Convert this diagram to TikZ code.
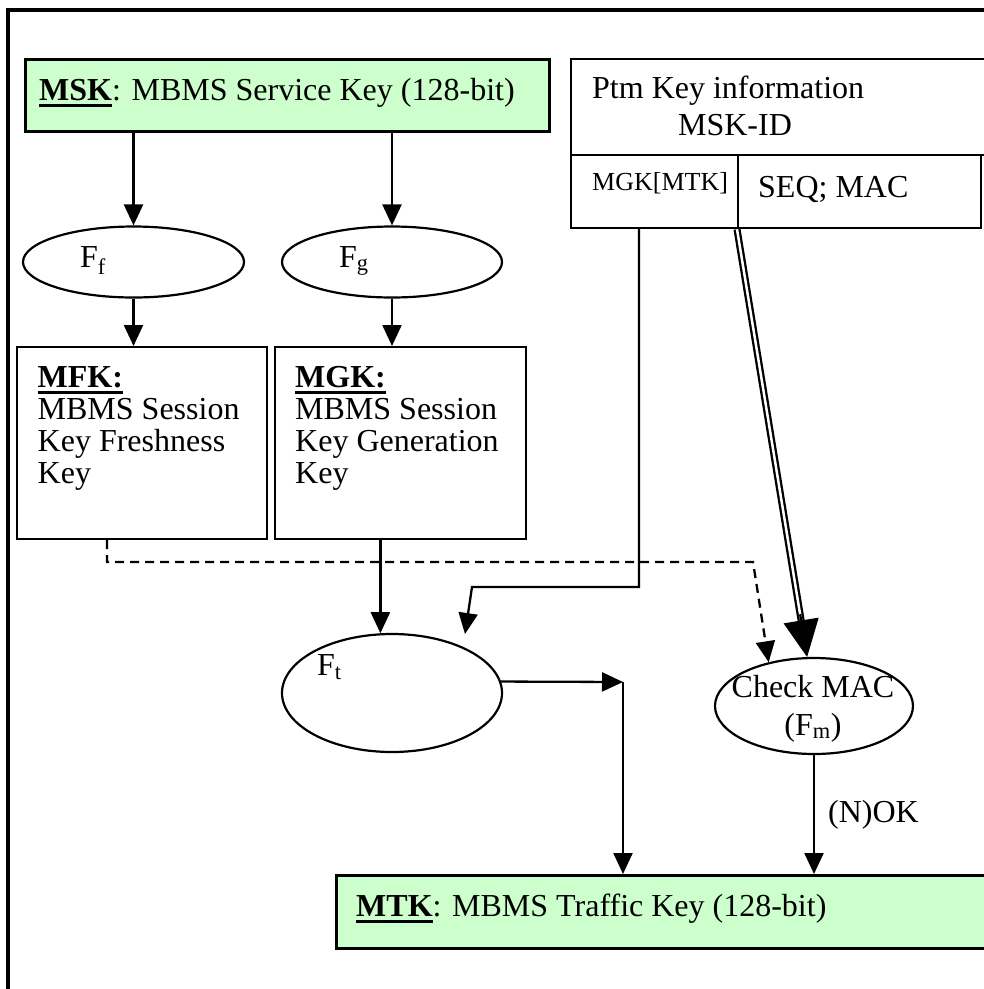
\documentclass[tikz,border=0pt]{standalone}
\usepackage{fontspec}
\setmainfont{Liberation Serif}
\usetikzlibrary{arrows.meta,shapes.geometric,calc}
\definecolor{keygreen}{HTML}{CCFFCC}
\newcommand\fsmain{\fontsize{32}{32}\selectfont}
\newcommand\fssmall{\fontsize{26}{26}\selectfont}
\newcommand\myul[1]{\setbox0\hbox{#1}\rlap{\rule[-6.5pt]{\wd0}{2.8pt}}\box0}
\tikzset{
  box/.style={draw, line width=2.2pt, inner sep=0pt, anchor=north west},
  keybox/.style={box, fill=keygreen, line width=2.6pt},
  fn/.style={draw, ellipse, line width=2.2pt, inner sep=0pt},
  conn/.style={line width=2.3pt, -{Triangle[length=21pt,width=19pt]}},
  dconn/.style={conn, dash pattern=on 9pt off 6pt},
  plain/.style={line width=2.3pt},
  txt/.style={inner sep=0pt, anchor=base west, font=\fsmain},
  ctxt/.style={inner sep=0pt, anchor=base, font=\fsmain},
  para/.style={inner sep=0pt, anchor=north west, align=left, font=\fsmain},
}
\begin{document}
\begin{tikzpicture}[x=1pt,y=-1pt]
\useasboundingbox (0,0) rectangle (984,989);
\clip (0,0) rectangle (984,989);
% outer frame
\draw[line width=3.2pt] (8,10) rectangle (1100,1100);

% boxes
\node[keybox, minimum width=524pt, minimum height=72pt] (msk) at (24,58) {};
\node[txt] (msktxt) at (39,100) {\myul{\textbf{MSK}}: MBMS Service Key (128-bit)};

\node[box, minimum width=440pt, minimum height=96pt] (ptm) at (570,58) {};
\node[box, minimum width=167pt, minimum height=73pt] (mgkmtk) at (570,154) {};
\node[box, minimum width=243pt, minimum height=73pt] (seqmac) at (737,154) {};
\node[txt] (ptmtxt) at (592,98) {Ptm Key information};
\node[ctxt] (mskid) at (735,135) {MSK-ID};
\node[txt, font=\fssmall] (mgktxt) at (592,190) {MGK[MTK]};
\node[txt] (seqtxt) at (758,197) {SEQ; MAC};

% functions
\node[fn, minimum width=221pt, minimum height=71pt] (ff) at (133.5,262) {};
\node[txt] (fflab) at (80,267) {F\textsubscript{f}};
\node[fn, minimum width=220pt, minimum height=71pt] (fg) at (392,262) {};
\node[txt] (fglab) at (339,267) {F\textsubscript{g}};

\node[box, minimum width=250pt, minimum height=192pt] (mfk) at (16,346) {};
\node[para] (mfktxt) at (37.5,366) {\myul{\textbf{MFK:}}\\MBMS Session\\Key Freshness\\Key};
\node[box, minimum width=251pt, minimum height=192pt] (mgk) at (274,346) {};
\node[para] (mgktxt2) at (295,366) {\myul{\textbf{MGK:}}\\MBMS Session\\Key Generation\\Key};

\node[fn, minimum width=220pt, minimum height=118pt] (ft) at (392,693) {};
\node[txt] (ftlab) at (317,675) {F\textsubscript{t}};

\node[fn, minimum width=198pt, minimum height=96pt] (cm) at (814,706) {};
\node[ctxt] (cmtxt1) at (813,697) {Check MAC};
\node[ctxt] (cmtxt2) at (813,735) {(F\textsubscript{m})};

\node[keybox, minimum width=700pt, minimum height=73pt] (mtk) at (335,874) {};
\node[txt] (mtktxt) at (356,916) {\myul{\textbf{MTK}}: MBMS Traffic Key (128-bit)};

% helper coordinates
\coordinate (d1) at (107,562);
\coordinate (d2) at (753,562);
\coordinate (m1) at (639,587);
\coordinate (m2) at (472,587);
\coordinate (ftin) at (465,634);
\coordinate (jn) at (623,682);

% connectors
\draw[conn] (msk.south -| ff.north) -- (ff.north);
\draw[conn] (msk.south -| fg.north) -- (fg.north);
\draw[conn] (ff.south) -- (ff.south |- mfk.north);
\draw[conn] (fg.south) -- (fg.south |- mgk.north);

\draw[dconn] (mfk.south -| d1) -- (d1) -- (d2) -- (cm.136);

\draw[conn] (mgk.south -| ft.101) -- (ft.101);
\draw[conn] (mgkmtk.south -| m1) -- (m1) -- (m2) -- (ftin);

\draw[plain, double, double distance=2.5pt, shorten >=35pt] (seqmac.south west) -- (cm.98);
\draw[line width=2.3pt, -{Triangle[length=37pt,width=35pt]}] ($(seqmac.south west)!0.9!(cm.98)$) -- (cm.98);

\draw[conn] (ft.6) -- (jn);
\draw[conn] (jn) -- (jn |- mtk.north);
\draw[conn] (cm.south) -- node[right, pos=0.5, inner sep=0pt, xshift=13pt, font=\fsmain] (nok) {(N)OK} (cm.south |- mtk.north);
\end{tikzpicture}
\end{document}
